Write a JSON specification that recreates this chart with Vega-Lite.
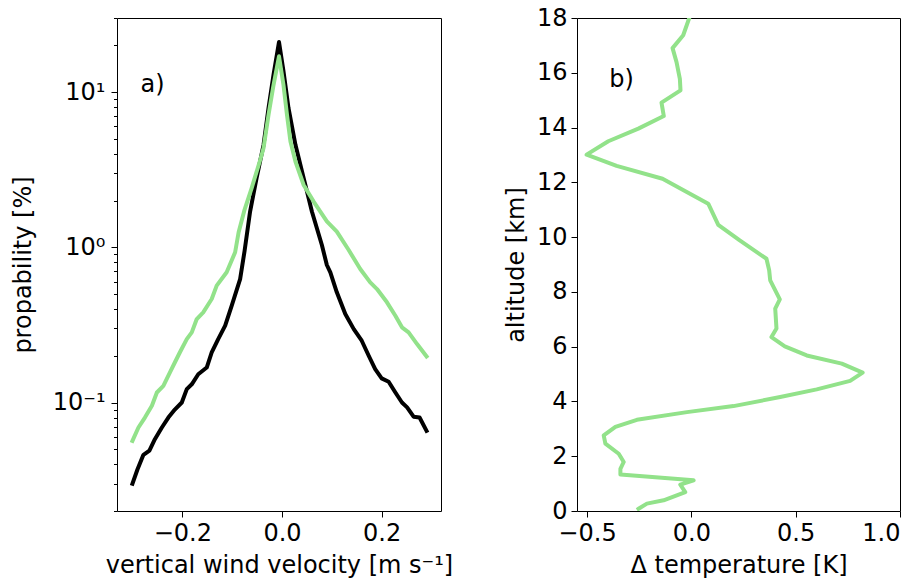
{
  "$schema": "https://vega.github.io/schema/vega-lite/v6.json",
  "padding": {"left": 10, "top": 5, "right": 5, "bottom": 5},
  "bounds": "flush",
  "spacing": 136,
  "background": "white",
  "config": {
    "font": "DejaVu Sans",
    "view": {"stroke": "black", "strokeWidth": 1},
    "axis": {
      "domain": false, "grid": false,
      "tickColor": "black", "tickWidth": 1, "tickSize": 6,
      "labelColor": "black", "titleColor": "black",
      "labelFont": "DejaVu Sans", "titleFont": "DejaVu Sans",
      "labelFontSize": 24, "titleFontSize": 24, "titleFontWeight": "normal",
      "labelPadding": 4
    }
  },
  "datasets": {
    "obs": [
      {"w": -0.300, "p": 0.030}, {"w": -0.290, "p": 0.037}, {"w": -0.278, "p": 0.046},
      {"w": -0.266, "p": 0.049}, {"w": -0.255, "p": 0.058}, {"w": -0.241, "p": 0.069},
      {"w": -0.228, "p": 0.080}, {"w": -0.215, "p": 0.090}, {"w": -0.201, "p": 0.100},
      {"w": -0.191, "p": 0.122}, {"w": -0.181, "p": 0.131}, {"w": -0.168, "p": 0.152},
      {"w": -0.151, "p": 0.168}, {"w": -0.141, "p": 0.210}, {"w": -0.128, "p": 0.256},
      {"w": -0.114, "p": 0.313}, {"w": -0.101, "p": 0.420}, {"w": -0.084, "p": 0.624},
      {"w": -0.075, "p": 0.95}, {"w": -0.064, "p": 1.70}, {"w": -0.051, "p": 2.79},
      {"w": -0.037, "p": 4.57}, {"w": -0.027, "p": 7.9}, {"w": -0.017, "p": 12.9},
      {"w": -0.006, "p": 21.0}, {"w": 0.003, "p": 13.6}, {"w": 0.013, "p": 7.9},
      {"w": 0.027, "p": 4.57}, {"w": 0.0435, "p": 2.79}, {"w": 0.060, "p": 1.70},
      {"w": 0.080, "p": 1.035}, {"w": 0.090, "p": 0.769}, {"w": 0.097, "p": 0.690},
      {"w": 0.110, "p": 0.513}, {"w": 0.127, "p": 0.372}, {"w": 0.144, "p": 0.297},
      {"w": 0.160, "p": 0.250}, {"w": 0.174, "p": 0.200}, {"w": 0.187, "p": 0.164},
      {"w": 0.200, "p": 0.143}, {"w": 0.214, "p": 0.136}, {"w": 0.2275, "p": 0.116},
      {"w": 0.2407, "p": 0.100}, {"w": 0.251, "p": 0.093}, {"w": 0.264, "p": 0.081},
      {"w": 0.276, "p": 0.080}, {"w": 0.290, "p": 0.0656}
    ],
    "model": [
      {"w": -0.300, "p": 0.0566}, {"w": -0.288, "p": 0.069}, {"w": -0.275, "p": 0.080},
      {"w": -0.261, "p": 0.0953}, {"w": -0.251, "p": 0.116}, {"w": -0.238, "p": 0.128},
      {"w": -0.225, "p": 0.156}, {"w": -0.215, "p": 0.181}, {"w": -0.205, "p": 0.210},
      {"w": -0.191, "p": 0.256}, {"w": -0.181, "p": 0.283}, {"w": -0.171, "p": 0.345},
      {"w": -0.158, "p": 0.381}, {"w": -0.141, "p": 0.464}, {"w": -0.131, "p": 0.566},
      {"w": -0.111, "p": 0.690}, {"w": -0.094, "p": 0.929}, {"w": -0.087, "p": 1.25},
      {"w": -0.075, "p": 1.75}, {"w": -0.061, "p": 2.40}, {"w": -0.043, "p": 3.72},
      {"w": -0.037, "p": 4.36}, {"w": -0.027, "p": 7.14}, {"w": -0.017, "p": 11.1},
      {"w": -0.006, "p": 17.0}, {"w": 0.003, "p": 11.1}, {"w": 0.010, "p": 7.14},
      {"w": 0.017, "p": 4.81}, {"w": 0.027, "p": 3.57}, {"w": 0.0435, "p": 2.52},
      {"w": 0.0635, "p": 1.97}, {"w": 0.090, "p": 1.47}, {"w": 0.110, "p": 1.26},
      {"w": 0.1338, "p": 0.96}, {"w": 0.157, "p": 0.724}, {"w": 0.177, "p": 0.594},
      {"w": 0.1906, "p": 0.538}, {"w": 0.2106, "p": 0.442}, {"w": 0.2275, "p": 0.362},
      {"w": 0.2407, "p": 0.305}, {"w": 0.254, "p": 0.283}, {"w": 0.271, "p": 0.238},
      {"w": 0.290, "p": 0.198}
    ],
    "dT": [
      {"dT": -0.253, "alt": 0.08}, {"dT": -0.213, "alt": 0.27}, {"dT": -0.133, "alt": 0.39},
      {"dT": -0.029, "alt": 0.69}, {"dT": -0.053, "alt": 0.96}, {"dT": 0.011, "alt": 1.12},
      {"dT": -0.340, "alt": 1.33}, {"dT": -0.340, "alt": 1.54}, {"dT": -0.324, "alt": 1.79},
      {"dT": -0.348, "alt": 2.09}, {"dT": -0.412, "alt": 2.46}, {"dT": -0.420, "alt": 2.76},
      {"dT": -0.364, "alt": 3.07}, {"dT": -0.261, "alt": 3.33}, {"dT": -0.021, "alt": 3.61},
      {"dT": 0.202, "alt": 3.83}, {"dT": 0.426, "alt": 4.16}, {"dT": 0.601, "alt": 4.44},
      {"dT": 0.761, "alt": 4.75}, {"dT": 0.821, "alt": 5.05}, {"dT": 0.721, "alt": 5.38},
      {"dT": 0.553, "alt": 5.68}, {"dT": 0.448, "alt": 6.01}, {"dT": 0.384, "alt": 6.35},
      {"dT": 0.408, "alt": 6.66}, {"dT": 0.402, "alt": 7.39}, {"dT": 0.424, "alt": 7.73},
      {"dT": 0.378, "alt": 8.42}, {"dT": 0.373, "alt": 8.79}, {"dT": 0.360, "alt": 9.21},
      {"dT": 0.232, "alt": 9.88}, {"dT": 0.129, "alt": 10.45}, {"dT": 0.081, "alt": 11.22},
      {"dT": -0.138, "alt": 12.13}, {"dT": -0.358, "alt": 12.6}, {"dT": -0.502, "alt": 13.01},
      {"dT": -0.398, "alt": 13.50}, {"dT": -0.254, "alt": 13.96}, {"dT": -0.132, "alt": 14.42},
      {"dT": -0.143, "alt": 14.91}, {"dT": -0.052, "alt": 15.36}, {"dT": -0.055, "alt": 15.78},
      {"dT": -0.071, "alt": 16.39}, {"dT": -0.090, "alt": 16.9}, {"dT": -0.039, "alt": 17.37},
      {"dT": -0.010, "alt": 18.0}
    ]
  },
  "hconcat": [
    {
      "width": 324,
      "height": 493,
      "encoding": {
        "x": {
          "field": "w", "type": "quantitative",
          "scale": {"domain": [-0.331, 0.319], "nice": false, "zero": false},
          "axis": {"values": [-0.2, 0, 0.2], "format": ".1f", "title": "vertical wind velocity [m s⁻¹]", "titlePadding": 8}
        },
        "y": {
          "field": "p", "type": "quantitative",
          "scale": {"type": "log", "domain": [0.02, 30], "nice": false},
          "axis": {
            "title": "propability [%]",
            "titlePadding": 17,
            "labelPadding": 6,
            "values": [0.02, 0.03, 0.04, 0.05, 0.06, 0.07, 0.08, 0.09, 0.1, 0.2, 0.3, 0.4, 0.5, 0.6, 0.7, 0.8, 0.9, 1, 2, 3, 4, 5, 6, 7, 8, 9, 10, 20, 30],
            "labelExpr": "datum.value == 10 ? '10¹' : datum.value == 1 ? '10⁰' : datum.value == 0.1 ? '10⁻¹' : ''",
            "tickSize": {"condition": {"test": "datum.value == 10 || datum.value == 1 || datum.value == 0.1", "value": 6}, "value": 3.5}
          }
        }
      },
      "layer": [
        {
          "data": {"name": "obs"},
          "mark": {"type": "line", "color": "black", "strokeWidth": 4, "strokeJoin": "round", "strokeCap": "square", "clip": true}
        },
        {
          "data": {"name": "model"},
          "mark": {"type": "line", "color": "#92e28a", "strokeWidth": 4, "strokeJoin": "round", "strokeCap": "square", "clip": true}
        },
        {
          "data": {"values": [{"w": -0.284, "p": 10, "label": "a)"}]},
          "mark": {"type": "text", "align": "left", "baseline": "alphabetic", "fontSize": 24, "font": "DejaVu Sans", "color": "black"},
          "encoding": {"text": {"field": "label"}}
        }
      ]
    },
    {
      "width": 323,
      "height": 493,
      "encoding": {
        "x": {
          "field": "dT", "type": "quantitative",
          "scale": {"domain": [-0.548, 1.0], "nice": false, "zero": false},
          "axis": {"values": [-0.5, 0, 0.5, 1.0], "format": ".1f", "title": "Δ temperature [K]", "titlePadding": 8}
        },
        "y": {
          "field": "alt", "type": "quantitative",
          "scale": {"domain": [0, 18], "nice": false},
          "axis": {"values": [0, 2, 4, 6, 8, 10, 12, 14, 16, 18], "format": "d", "title": "altitude [km]", "titlePadding": 8}
        }
      },
      "layer": [
        {
          "data": {"name": "dT"},
          "mark": {"type": "line", "color": "#92e28a", "strokeWidth": 4, "strokeJoin": "round", "strokeCap": "square", "clip": true},
          "encoding": {"order": {"field": "alt", "type": "quantitative"}}
        },
        {
          "data": {"values": [{"dT": -0.393, "alt": 15.48, "label": "b)"}]},
          "mark": {"type": "text", "align": "left", "baseline": "alphabetic", "fontSize": 24, "font": "DejaVu Sans", "color": "black"},
          "encoding": {"text": {"field": "label"}}
        }
      ]
    }
  ]
}
